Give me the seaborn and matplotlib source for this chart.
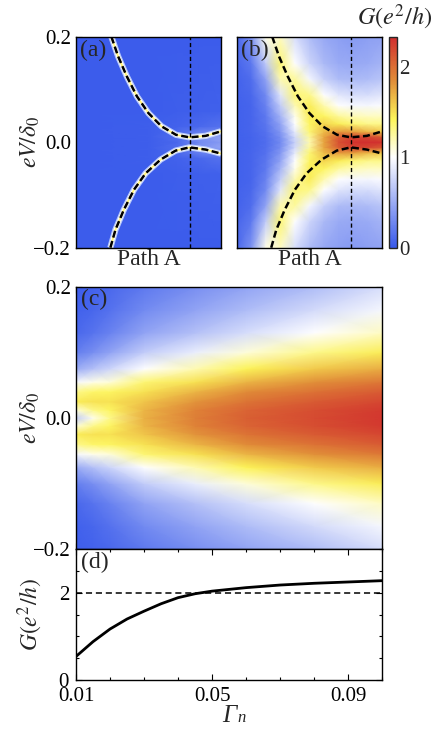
import numpy as np
import matplotlib
matplotlib.use("Agg")
import matplotlib.pyplot as plt
from matplotlib.colors import LinearSegmentedColormap
from matplotlib.ticker import MultipleLocator
import seaborn as sns

# ---- data ----
# dashed lines in (a) and (b): peak positions along path A (0..1)
upper_p = [0.244, 0.29, 0.35, 0.42, 0.50, 0.59, 0.69, 0.783, 0.894, 1.0]
upper_ev = [0.2, 0.163, 0.125, 0.087, 0.055, 0.030, 0.014, 0.0092, 0.012, 0.0206]
lower_p = [0.237, 0.272, 0.33, 0.40, 0.48, 0.583, 0.687, 0.783, 0.894, 1.0]
lower_ev = [-0.2, -0.166, -0.128, -0.090, -0.059, -0.033, -0.016, -0.0098, -0.014, -0.0216]
p_cut = 0.783

# panel (a) background conductance (upper half, mirrored in eV)
path_a = [0.0, 0.5, 0.7, 0.85, 1.0]
ev_a = [0.0, 0.01, 0.03, 0.06, 0.2]
g_a = [
    [0.02, 0.03, 0.10, 0.30, 0.40],
    [0.02, 0.03, 0.12, 0.35, 0.45],
    [0.02, 0.03, 0.06, 0.10, 0.15],
    [0.02, 0.02, 0.03, 0.04, 0.05],
    [0.02, 0.02, 0.02, 0.02, 0.02],
]

# panel (b)
path_b = [0.0, 0.1, 0.2, 0.3, 0.4, 0.5, 0.6, 0.7, 0.8, 0.9, 1.0]
ev_b = [0.0, 0.01, 0.02, 0.035, 0.05, 0.07, 0.09, 0.12, 0.15, 0.2]
g_b = [
    [0.05, 0.07, 0.12, 0.30, 0.72, 1.20, 1.75, 2.15, 2.30, 2.33, 2.30],
    [0.05, 0.07, 0.13, 0.32, 0.78, 1.25, 1.75, 2.08, 2.22, 2.20, 2.10],
    [0.05, 0.08, 0.15, 0.38, 0.88, 1.35, 1.66, 1.80, 1.78, 1.68, 1.60],
    [0.05, 0.08, 0.18, 0.45, 1.00, 1.40, 1.55, 1.45, 1.35, 1.30, 1.30],
    [0.05, 0.08, 0.20, 0.55, 1.05, 1.45, 1.40, 1.25, 1.18, 1.15, 1.15],
    [0.05, 0.08, 0.25, 0.70, 1.20, 1.45, 1.20, 1.00, 0.95, 0.95, 0.98],
    [0.06, 0.10, 0.30, 0.85, 1.35, 1.30, 1.00, 0.85, 0.80, 0.80, 0.85],
    [0.06, 0.12, 0.45, 1.20, 1.25, 0.95, 0.72, 0.60, 0.58, 0.60, 0.65],
    [0.08, 0.20, 0.70, 1.35, 1.00, 0.75, 0.58, 0.50, 0.48, 0.50, 0.55],
    [0.10, 0.35, 1.05, 1.15, 0.80, 0.60, 0.48, 0.42, 0.40, 0.42, 0.45],
]

# panel (c): G vs Gamma_n and eV
gamma_c = [0.01, 0.015, 0.02, 0.03, 0.045, 0.06, 0.08, 0.1]
ev_c = [0.0, 0.012, 0.025, 0.04, 0.055, 0.075, 0.1, 0.13, 0.165, 0.2]
g_c = [
    [0.70, 1.05, 1.30, 1.70, 1.92, 2.07, 2.18, 2.28],
    [1.10, 1.30, 1.40, 1.68, 1.90, 2.05, 2.16, 2.26],
    [1.45, 1.50, 1.50, 1.62, 1.82, 1.97, 2.10, 2.20],
    [1.30, 1.38, 1.40, 1.50, 1.68, 1.85, 1.98, 2.10],
    [0.95, 1.05, 1.10, 1.35, 1.50, 1.68, 1.83, 1.95],
    [0.50, 0.62, 0.75, 1.00, 1.20, 1.42, 1.60, 1.72],
    [0.22, 0.32, 0.45, 0.70, 0.90, 1.10, 1.30, 1.45],
    [0.10, 0.16, 0.25, 0.45, 0.62, 0.80, 1.00, 1.15],
    [0.05, 0.09, 0.15, 0.30, 0.45, 0.60, 0.78, 0.95],
    [0.03, 0.06, 0.10, 0.20, 0.32, 0.45, 0.60, 0.80],
]

# panel (d): zero-bias conductance
gamma_d = [0.010, 0.015, 0.020, 0.025, 0.030, 0.035, 0.040, 0.045, 0.050,
           0.060, 0.070, 0.080, 0.090, 0.100]
g_d = [0.54, 0.88, 1.17, 1.40, 1.58, 1.75, 1.89, 1.98, 2.04,
       2.12, 2.18, 2.22, 2.25, 2.28]

vmax = 2.33

sns.set_style("ticks")
plt.rcParams['font.family'] = ['Liberation Serif', 'DejaVu Serif']
plt.rcParams['mathtext.fontset'] = 'stix'
plt.rcParams['axes.linewidth'] = 1.0

cmap = LinearSegmentedColormap.from_list("gmap", [
    (0.0, (0.22, 0.35, 0.92)),
    (1.0 / vmax, (1.0, 1.0, 1.0)),
    (1.42 / vmax, (0.99, 0.96, 0.35)),
    (1.85 / vmax, (0.88, 0.55, 0.22)),
    (1.0, (0.82, 0.18, 0.18)),
])


def mirror(ev_half, g_half):
    ev_half = np.asarray(ev_half)
    g_half = np.asarray(g_half)
    ev_full = np.concatenate([-ev_half[::-1], ev_half[1:]])
    g_full = np.vstack([g_half[::-1], g_half[1:]])
    return ev_full, g_full


def style(ax):
    ax.tick_params(which='both', direction='in', top=True, right=True,
                   labelsize=15, width=0.8, colors='k')
    ax.tick_params(which='major', length=4)
    ax.tick_params(which='minor', length=2.5)
    for s in ax.spines.values():
        s.set_color('k')


fig = plt.figure(figsize=(4.36, 7.29), dpi=100)
W, H = 436.0, 729.0


def box(x0, y0, x1, y1):
    return [x0 / W, 1 - y1 / H, (x1 - x0) / W, (y1 - y0) / H]


ax_a = fig.add_axes(box(76, 36.7, 221, 247.7))
ax_b = fig.add_axes(box(236.7, 36.7, 382.3, 247.7))
cax = fig.add_axes(box(389, 36.7, 396.7, 247.7))
ax_c = fig.add_axes(box(76, 286.7, 382.3, 549.3))
ax_d = fig.add_axes(box(76, 549.3, 382.3, 680))

# (a)
ev_full, g_full = mirror(ev_a, g_a)
X, Y = np.meshgrid(path_a, ev_full)
ax_a.pcolormesh(X, Y, g_full, shading='gouraud', cmap=cmap, vmin=0, vmax=vmax)
for xs, ys in [(upper_p, upper_ev), (lower_p, lower_ev)]:
    ax_a.plot(xs, ys, color=(0.85, 0.9, 1.0), lw=4.5, alpha=0.8, solid_capstyle='butt')
    ax_a.plot(xs, ys, color='white', lw=2.8, solid_capstyle='butt')
    ax_a.plot(xs, ys, color=(1.0, 0.95, 0.45), lw=1.3, solid_capstyle='butt')

# (b)
ev_full, g_full = mirror(ev_b, g_b)
X, Y = np.meshgrid(path_b, ev_full)
mesh = ax_b.pcolormesh(X, Y, g_full, shading='gouraud', cmap=cmap, vmin=0, vmax=vmax)

for ax, lab in [(ax_a, '(a)'), (ax_b, '(b)')]:
    for xs, ys in [(upper_p, upper_ev), (lower_p, lower_ev)]:
        sns.lineplot(x=xs, y=ys, ax=ax, sort=False, color='k', lw=1.8,
                     dashes=False, estimator=None)
        ax.lines[-1].set_dashes((2.8, 1.4))
    ax.axvline(p_cut, color='k', lw=1.0, dashes=(3, 2))
    ax.set_xlim(0, 1)
    ax.set_ylim(-0.2, 0.2)
    ax.set_xticks([])
    ax.yaxis.set_major_locator(MultipleLocator(0.2))
    ax.yaxis.set_minor_locator(MultipleLocator(0.05))
    style(ax)
    ax.set_xlabel('Path A', fontsize=17, labelpad=1)
    ax.text(0.03, 0.985, lab, transform=ax.transAxes, ha='left', va='top', fontsize=17)
ax_b.set_yticklabels([])
ax_a.set_ylabel(r'$eV/\delta_0$', fontsize=17)
ax_a.yaxis.set_label_coords(-0.235, 0.5)

cb = fig.colorbar(mesh, cax=cax, ticks=[0, 1, 2])
cb.ax.tick_params(length=0, labelsize=15, pad=2)
cb.outline.set_linewidth(1.0)
fig.text(432 / W, 1 - 3 / H, r'$G(e^2/h)$', ha='right', va='top', fontsize=17.5)

# (c)
ev_full, g_full = mirror(ev_c, g_c)
X, Y = np.meshgrid(gamma_c, ev_full)
ax_c.pcolormesh(X, Y, g_full, shading='gouraud', cmap=cmap, vmin=0, vmax=vmax)
ax_c.set_xlim(0.01, 0.1)
ax_c.set_ylim(-0.2, 0.2)
ax_c.set_xticks([0.01, 0.05, 0.09])
ax_c.xaxis.set_minor_locator(MultipleLocator(0.01))
ax_c.set_xticklabels([])
ax_c.yaxis.set_major_locator(MultipleLocator(0.2))
ax_c.yaxis.set_minor_locator(MultipleLocator(0.05))
style(ax_c)
ax_c.set_ylabel(r'$eV/\delta_0$', fontsize=17)
ax_c.yaxis.set_label_coords(-0.11, 0.5)
ax_c.text(0.015, 0.99, '(c)', transform=ax_c.transAxes, ha='left', va='top', fontsize=17)

# (d)
sns.lineplot(x=gamma_d, y=g_d, ax=ax_d, color='k', lw=2.0, estimator=None)
ax_d.axhline(2, color='k', lw=1.1, dashes=(4, 2.5))
ax_d.set_xlim(0.01, 0.1)
ax_d.set_ylim(0, 3)
ax_d.set_xticks([0.01, 0.05, 0.09])
ax_d.set_xticklabels(['0.01', '0.05', '0.09'])
ax_d.xaxis.set_minor_locator(MultipleLocator(0.01))
ax_d.set_yticks([0, 2])
ax_d.yaxis.set_minor_locator(MultipleLocator(0.5))
style(ax_d)
ax_d.tick_params(axis='x', which='major', pad=5)
ax_d.tick_params(axis='y', which='major', pad=5)
ax_d.set_ylabel(r'$G(e^2/h)$', fontsize=17)
ax_d.yaxis.set_label_coords(-0.10, 0.5)
ax_d.set_xlabel('Γ', fontsize=18, style='italic', labelpad=-1)
ax_d.annotate('n', xy=(1.0, 0.38), xycoords=ax_d.xaxis.label, xytext=(0.5, 0),
              textcoords='offset points', ha='left', va='center',
              fontsize=12, style='italic')
ax_d.text(0.015, 0.98, '(d)', transform=ax_d.transAxes, ha='left', va='top', fontsize=17)

fig.savefig('out.png', dpi=100)
